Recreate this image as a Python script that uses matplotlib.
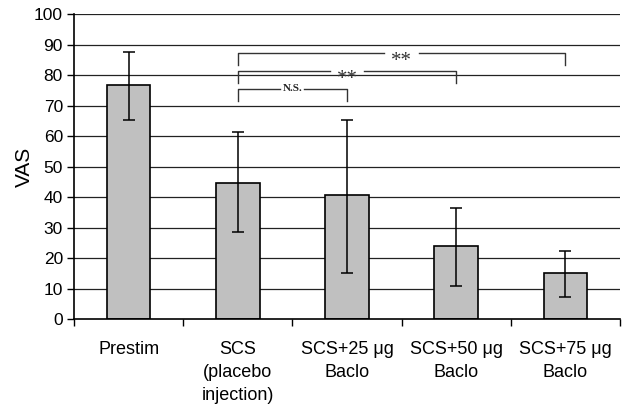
import matplotlib
matplotlib.use("Agg")
import matplotlib.pyplot as plt

plt.rcParams['font.family'] = ['Liberation Sans', 'DejaVu Sans']

categories = ["Prestim", "SCS\n(placebo\ninjection)", "SCS+25 μg\nBaclo",
              "SCS+50 μg\nBaclo", "SCS+75 μg\nBaclo"]
means = [76.6, 44.7, 40.7, 23.8, 15.0]
err_upper = [87.4, 61.3, 65.3, 36.4, 22.4]
err_lower = [65.1, 28.5, 15.0, 10.8, 7.2]
yticks = list(range(0, 101, 10))

# significance brackets: (start index, end index, bar height, drop height, label)
brackets = [
    (1, 2, 75.5, 71.4, "N.S."),
    (1, 3, 81.4, 77.3, "**"),
    (1, 4, 87.3, 83.2, "**"),
]

fig = plt.figure(figsize=(6.24, 4.07), dpi=100)
ax = fig.add_axes([0.1186, 0.2162, 0.875, 0.7494])

x = list(range(len(categories)))
yerr = [[m - l for m, l in zip(means, err_lower)],
        [u - m for m, u in zip(means, err_upper)]]

for t in yticks[1:]:
    ax.axhline(t, color='#222222', lw=0.9, zorder=0)

ax.bar(x, means, width=0.40, color='#c0c0c0', edgecolor='black', linewidth=1.2, zorder=2)
ax.errorbar(x, means, yerr=yerr, fmt='none', ecolor='black', elinewidth=1.1,
            capsize=4, capthick=1.1, zorder=3)

col = '#333333'
for s, e, h, d, lab in brackets:
    xm = (s + e) / 2
    gap = 0.11 if lab == "N.S." else 0.16
    ax.plot([s, s, xm - gap], [d, h, h], color=col, lw=1.0, zorder=4)
    ax.plot([xm + gap, e, e], [h, h, d], color=col, lw=1.0, zorder=4)
    if lab == "N.S.":
        ax.text(xm, h, lab, ha='center', va='center', fontsize=8,
                fontweight='bold', family='Liberation Serif', color='#222222', zorder=5)
    else:
        ax.annotate(lab, (xm, h - 0.5), xytext=(0, -8.5), textcoords='offset points',
                    ha='center', va='baseline', fontsize=15,
                    family='Liberation Serif', color='#333333', zorder=5)

ax.set_xlim(-0.5, 4.5)
ax.set_ylim(0, 100)
ax.set_yticks(yticks)
ax.set_yticklabels([str(t) for t in yticks], fontsize=12.5)
ax.set_xticks([i - 0.5 for i in range(len(categories) + 1)])
ax.set_xticklabels([])
ax.set_xticks(x, minor=True)
ax.set_xticklabels(categories, minor=True, fontsize=13, linespacing=1.45)
ax.tick_params(axis='x', which='minor', length=0, pad=16)
ax.tick_params(axis='x', which='major', length=5, width=1, direction='out')
ax.tick_params(axis='y', length=5, width=1, direction='out', pad=3)
ax.set_ylabel("VAS", fontsize=15, labelpad=0)

for side in ['top', 'right']:
    ax.spines[side].set_visible(False)
ax.spines['left'].set_linewidth(1.2)
ax.spines['bottom'].set_linewidth(1.2)

fig.savefig("out.png", dpi=100)
